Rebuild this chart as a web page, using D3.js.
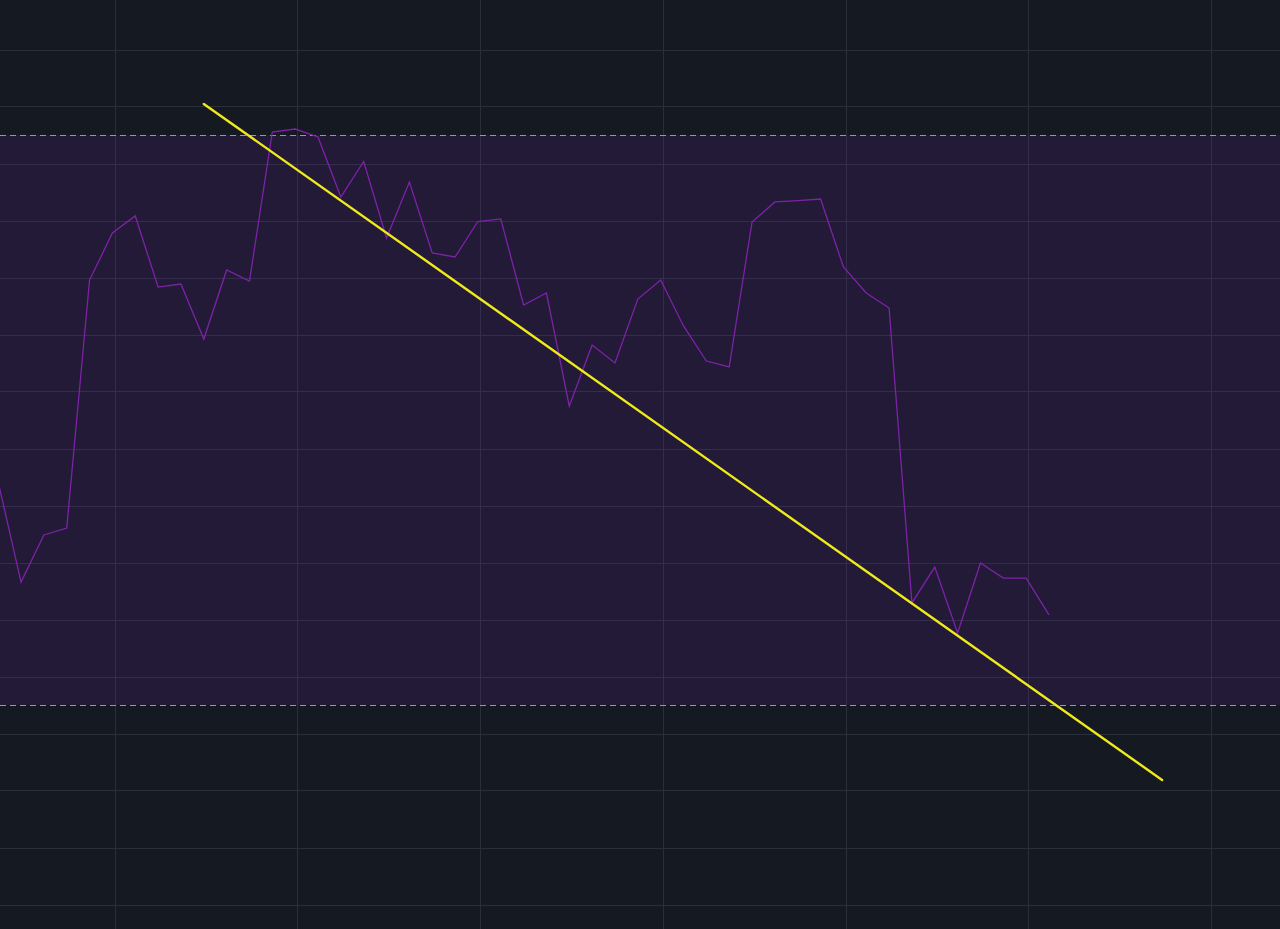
<!DOCTYPE html>
<html>
<head>
<meta charset="utf-8">
<script src="https://cdn.jsdelivr.net/npm/d3@7"></script>
<style>
html,body{margin:0;padding:0;background:#151922;overflow:hidden;}
svg{display:block;}
</style>
</head>
<body>
<svg id="chart" width="1280" height="929"></svg>
<script>
// ---- data ----
const barIndex = d3.range(0, 47);
const oscValues = [
  45.65, 38.63, 41.93, 42.42, 59.82, 63.12, 64.32, 59.33, 59.54, 55.68,
  60.53, 59.75, 70.21, 70.42, 69.86, 65.65, 68.14, 62.77, 66.70, 61.72,
  61.44, 63.93, 64.11, 58.07, 58.91, 50.98, 55.26, 54.00, 58.49, 59.82,
  56.60, 54.14, 53.72, 63.89, 65.30, 65.40, 65.51, 60.74, 58.91, 57.86,
  37.16, 39.68, 35.05, 39.96, 38.91, 38.91, 36.32
];
const bandUpper = 70;
const bandLower = 30;
const yGridTicks = d3.range(0, 88, 4);
const xGridTicks = [5.1, 13.1, 21.1, 29.1, 37.1, 45.1, 53.1];
const trendStart = {i: 9, v: 72.18};
const trendEnd = {i: 50.95, v: 24.74};

// ---- scales ----
const W = 1280, H = 929;
const x = d3.scaleLinear().domain([0, 46]).range([-1.8, 1049]);
const y = d3.scaleLinear().domain([30, 70]).range([705, 135]);

const svg = d3.select("#chart");
svg.append("rect").attr("width", W).attr("height", H).attr("fill", "#151922");

// grid
const grid = svg.append("g");
grid.selectAll("line.h").data(yGridTicks).join("line")
  .attr("x1", 0).attr("x2", W)
  .attr("y1", d => Math.round(y(d)) + 0.5).attr("y2", d => Math.round(y(d)) + 0.5)
  .attr("stroke", "#2b2f3a").attr("stroke-width", 1);
grid.selectAll("line.v").data(xGridTicks).join("line")
  .attr("y1", 0).attr("y2", H)
  .attr("x1", d => Math.round(x(d)) + 0.5).attr("x2", d => Math.round(x(d)) + 0.5)
  .attr("stroke", "#2b2f3a").attr("stroke-width", 1);

// band fill
svg.append("rect")
  .attr("x", 0).attr("width", W)
  .attr("y", y(bandUpper)).attr("height", y(bandLower) - y(bandUpper))
  .attr("fill", "rgb(120,36,200)").attr("fill-opacity", 0.13);

// band dashed lines
svg.selectAll("line.band").data([bandUpper, bandLower]).join("line")
  .attr("x1", 0).attr("x2", W)
  .attr("y1", d => Math.round(y(d)) + 0.5).attr("y2", d => Math.round(y(d)) + 0.5)
  .attr("stroke", "#9a96a6").attr("stroke-width", 1.2)
  .attr("stroke-dasharray", "6,4");

// oscillator line
const line = d3.line().x((d, i) => x(barIndex[i])).y(d => y(d));
svg.append("path").datum(oscValues)
  .attr("d", line)
  .attr("fill", "none")
  .attr("stroke", "#7e22a8")
  .attr("stroke-width", 1.3)
  .attr("stroke-linejoin", "miter");

// trend line
svg.append("line")
  .attr("x1", x(trendStart.i)).attr("y1", y(trendStart.v))
  .attr("x2", x(trendEnd.i)).attr("y2", y(trendEnd.v))
  .attr("stroke", "#eeea1c").attr("stroke-width", 2.4)
  .attr("stroke-linecap", "round");
</script>
</body>
</html>
